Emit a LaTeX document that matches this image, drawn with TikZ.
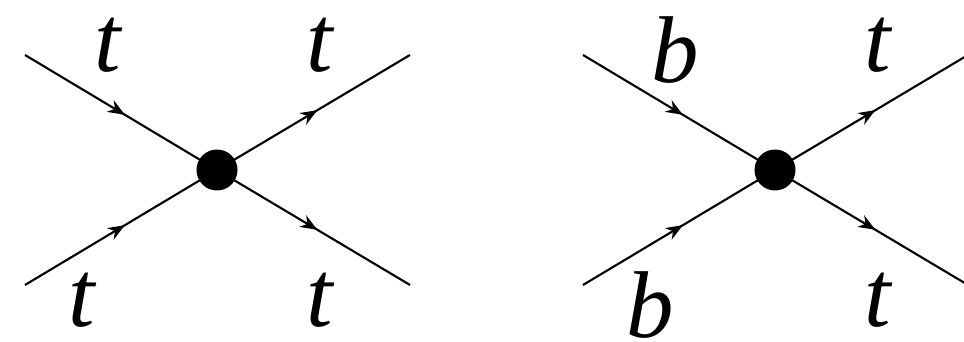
\documentclass[tikz,border=0pt]{standalone}
\usepackage{fontspec}
\setmainfont{Liberation Serif}
\usetikzlibrary{arrows.meta,decorations.markings}

\tikzset{
  fermion/.style={line width=0.6pt, postaction={decorate},
    decoration={markings, mark=at position 0.52 with {\arrow{Stealth[length=4.8pt,width=3.8pt]}}}},
  vertex/.style={circle, fill=black, inner sep=0pt, minimum size=0.41cm},
  quark/.style={font=\fontsize{27}{27}\selectfont\itshape, inner sep=0pt, anchor=base}
}

\begin{document}
\begin{tikzpicture}
  \useasboundingbox (0,0) rectangle (9.64,3.42);
  \clip (0,0) rectangle (9.64,3.42);

  % two four-quark vertices, the second one shifted to the right
  \foreach \diag/\dx in {L/0, R/5.58} {
    \coordinate (ul\diag) at ({\dx+0.25},2.87);
    \coordinate (ll\diag) at ({\dx+0.25},0.57);
    \coordinate (ur\diag) at ({\dx+4.10},2.87);
    \coordinate (lr\diag) at ({\dx+4.10},0.57);
    \node[vertex] (v\diag) at ({\dx+2.17},1.72) {};
    \draw[fermion] (ul\diag) -- (v\diag.center);
    \draw[fermion] (ll\diag) -- (v\diag.center);
    \draw[fermion] (v\diag.center) -- (ur\diag);
    \draw[fermion] (v\diag.center) -- (lr\diag);
  }

  \node[quark] (inUL) at (1.08,2.70) {t};
  \node[quark] (inLL) at (0.82,0.15) {t};
  \node[quark] (outUL) at (3.20,2.70) {t};
  \node[quark] (outLL) at (3.20,0.15) {t};

  \node[quark] (inUR) at (6.75,2.59) {b};
  \node[quark] (inLR) at (6.50,0.04) {b};
  \node[quark] (outUR) at (8.78,2.70) {t};
  \node[quark] (outLR) at (8.78,0.15) {t};
\end{tikzpicture}
\end{document}
